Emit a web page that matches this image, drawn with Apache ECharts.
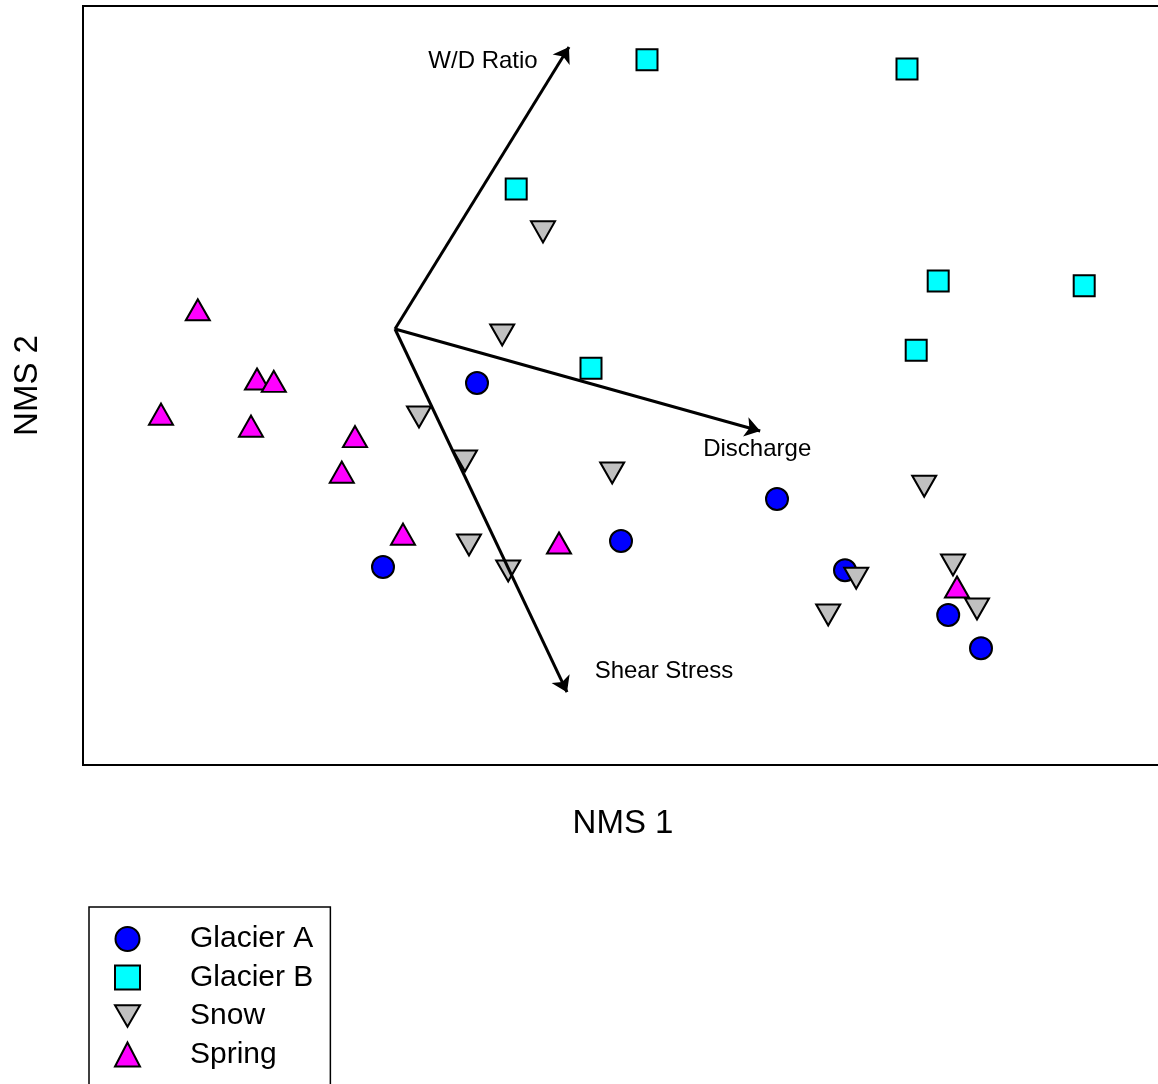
<!DOCTYPE html>
<html>
<head>
<meta charset="utf-8">
<script src="https://cdn.jsdelivr.net/npm/echarts@6/dist/echarts.min.js"></script>
<style>
  html, body { margin: 0; padding: 0; background: #fff; overflow: hidden; }
  #chart { width: 1180px; height: 1200px; }
</style>
</head>
<body>
<div id="chart"></div>
<script>
// NMS ordination scores [NMS 1, NMS 2] per sample group
const glacierA = [
  [0.205, -0.135], [-0.030, -0.595], [0.565, -0.530], [0.955, -0.425],
  [1.125, -0.603], [1.383, -0.715], [1.465, -0.798]
];
const glacierB = [
  [0.630, 0.673], [1.280, 0.650], [0.303, 0.350], [1.358, 0.120],
  [1.723, 0.108], [1.303, -0.053], [0.490, -0.098]
];
const snow = [
  [0.370, 0.243], [0.268, -0.015], [0.060, -0.220], [0.175, -0.330],
  [0.543, -0.360], [1.323, -0.393], [0.185, -0.540], [0.283, -0.605],
  [1.395, -0.590], [1.153, -0.623], [1.083, -0.715], [1.455, -0.700]
];
const spring = [
  [-0.493, 0.048], [-0.345, -0.125], [-0.303, -0.131], [-0.585, -0.213],
  [-0.360, -0.243], [-0.100, -0.269], [-0.133, -0.358], [0.020, -0.513],
  [0.410, -0.535], [1.405, -0.645]
];

// Environmental vectors (biplot arrows from the origin)
const vectorNames = ['W/D Ratio', 'Discharge', 'Shear Stress'];
const vectorTips = [[0.435, 0.705], [0.913, -0.255], [0.430, -0.908]];

const axisNames = ['NMS 1', 'NMS 2'];
const groupNames = ['Glacier A', 'Glacier B', 'Snow', 'Spring'];

const downTriangle = 'path://M0,0L2,0L1,1.732Z';
const FONT = '"Liberation Sans", Arial, Helvetica, sans-serif';

// label placement around each arrow tip
const vectorLabelOffsets = [[-86, 14], [-3, 18], [97, -21]];

const pointBorder = { borderColor: '#000', borderWidth: 2 };

const chart = echarts.init(document.getElementById('chart'), null, { renderer: 'canvas' });

chart.setOption({
  backgroundColor: '#fff',
  animation: false,
  grid: {
    left: 83, top: 6, width: 1080, height: 759,
    show: true, borderColor: '#000', borderWidth: 2, backgroundColor: 'transparent'
  },
  xAxis: {
    type: 'value', min: -0.78, max: 1.92,
    name: axisNames[0], nameLocation: 'middle', nameGap: 42,
    nameTextStyle: { fontFamily: FONT, fontSize: 33, color: '#000' },
    axisLine: { show: false }, axisTick: { show: false },
    axisLabel: { show: false }, splitLine: { show: false }
  },
  yAxis: {
    type: 'value', min: -1.09, max: 0.8075,
    name: axisNames[1], nameLocation: 'middle', nameGap: 39,
    nameTextStyle: { fontFamily: FONT, fontSize: 33, color: '#000' },
    axisLine: { show: false }, axisTick: { show: false },
    axisLabel: { show: false }, splitLine: { show: false }
  },
  legend: {
    orient: 'vertical', left: 89, top: 907,
    padding: [17, 17, 40, 25],
    borderColor: '#000', borderWidth: 1.5,
    itemWidth: 25, itemHeight: 24, itemGap: 8.5,
    textStyle: { fontFamily: FONT, fontSize: 30, color: '#000', lineHeight: 30, padding: [0, 0, 0, 45] },
    data: [
      { name: groupNames[0], icon: 'circle' },
      { name: groupNames[1], icon: 'rect' },
      { name: groupNames[2], icon: downTriangle },
      { name: groupNames[3], icon: 'triangle' }
    ]
  },
  series: [
    {
      name: groupNames[0], type: 'scatter', data: glacierA,
      symbol: 'circle', symbolSize: 22,
      itemStyle: Object.assign({ color: '#0000FF', opacity: 1 }, pointBorder), z: 2
    },
    {
      name: groupNames[1], type: 'scatter', data: glacierB,
      symbol: 'rect', symbolSize: 21,
      itemStyle: Object.assign({ color: '#00FFFF', opacity: 1 }, pointBorder), z: 2
    },
    {
      name: groupNames[2], type: 'scatter', data: snow,
      symbol: downTriangle, symbolSize: [24, 21],
      itemStyle: Object.assign({ color: '#C0C0C0', opacity: 1 }, pointBorder), z: 2
    },
    {
      name: groupNames[3], type: 'scatter', data: spring,
      symbol: 'triangle', symbolSize: [24, 21],
      itemStyle: Object.assign({ color: '#FF00FF', opacity: 1 }, pointBorder), z: 2
    },
    {
      name: 'vectors', type: 'lines', coordinateSystem: 'cartesian2d',
      z: 5, silent: true,
      symbol: ['none', 'arrow'], symbolSize: [10, 15],
      lineStyle: { color: '#000', width: 3, opacity: 1, curveness: 0 },
      data: vectorTips.map(t => ({ coords: [[0, 0], t] }))
    },
    {
      name: 'vector labels', type: 'scatter', z: 6, silent: true,
      symbol: 'circle', symbolSize: 0.1,
      itemStyle: { color: 'transparent', opacity: 1 },
      label: { show: true, position: 'inside', fontFamily: FONT, fontSize: 24, color: '#000', opacity: 1 },
      data: vectorTips.map((t, i) => ({
        value: t,
        label: { formatter: vectorNames[i], offset: vectorLabelOffsets[i] }
      }))
    }
  ]
});
</script>
</body>
</html>
